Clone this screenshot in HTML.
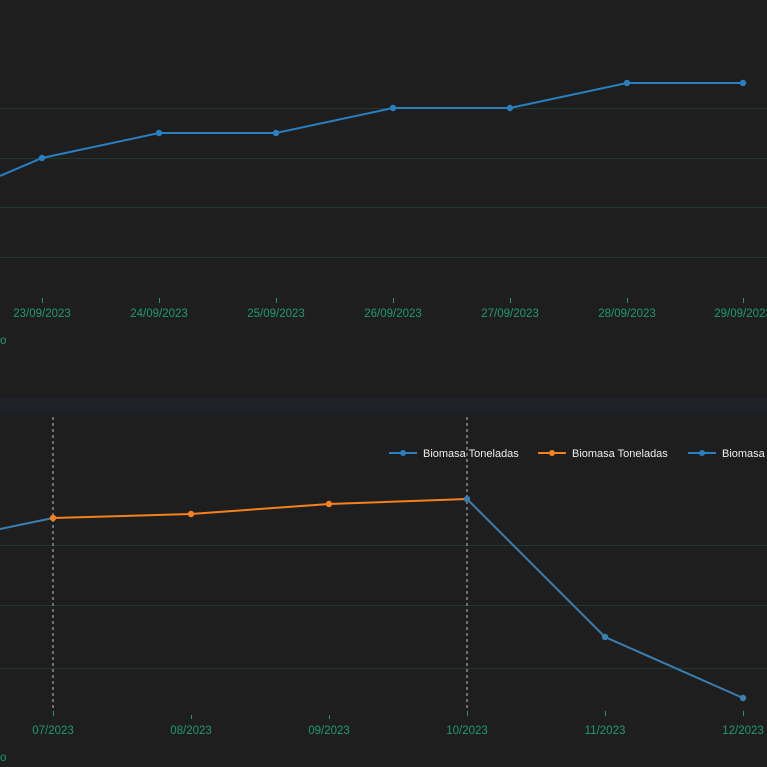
<!DOCTYPE html>
<html><head><style>
html,body{margin:0;padding:0;background:#1e1e1e;}
svg{display:block}
text{font-family:"Liberation Sans",sans-serif;}
</style></head><body>
<svg width="767" height="767" viewBox="0 0 767 767">
<rect width="767" height="767" fill="#1e1e1e"/>
<rect x="0" y="398" width="767" height="15" fill="#20222a"/>
<g stroke="#1f3a2c" stroke-width="1">
<line x1="0" x2="767" y1="108.5" y2="108.5"/>
<line x1="0" x2="767" y1="158.5" y2="158.5"/>
<line x1="0" x2="767" y1="207.5" y2="207.5"/>
<line x1="0" x2="767" y1="257.5" y2="257.5"/>
<line x1="0" x2="767" y1="545.5" y2="545.5"/>
<line x1="0" x2="767" y1="605.5" y2="605.5"/>
<line x1="0" x2="767" y1="668.5" y2="668.5"/>
</g>
<g stroke="#1f9a6e" stroke-width="1">
<line x1="42.5" x2="42.5" y1="298" y2="303"/><line x1="159.5" x2="159.5" y1="298" y2="303"/>
<line x1="276.5" x2="276.5" y1="298" y2="303"/><line x1="393.5" x2="393.5" y1="298" y2="303"/>
<line x1="510.5" x2="510.5" y1="298" y2="303"/><line x1="627.5" x2="627.5" y1="298" y2="303"/>
<line x1="743.5" x2="743.5" y1="298" y2="303"/>
<line x1="53.5" x2="53.5" y1="711" y2="716"/><line x1="191.5" x2="191.5" y1="715" y2="719"/>
<line x1="329.5" x2="329.5" y1="715" y2="719"/><line x1="467.5" x2="467.5" y1="711" y2="716"/>
<line x1="605.5" x2="605.5" y1="711" y2="716"/><line x1="743.5" x2="743.5" y1="711" y2="716"/>
</g>
<g fill="#1f9a6e" font-size="11.5" text-anchor="middle">
<text x="42" y="317">23/09/2023</text><text x="159" y="317">24/09/2023</text>
<text x="276" y="317">25/09/2023</text><text x="393" y="317">26/09/2023</text>
<text x="510" y="317">27/09/2023</text><text x="627" y="317">28/09/2023</text>
<text x="743" y="317">29/09/2023</text>
<text x="53" y="734">07/2023</text><text x="191" y="734">08/2023</text>
<text x="329" y="734">09/2023</text><text x="467" y="734">10/2023</text>
<text x="605" y="734">11/2023</text><text x="743" y="734">12/2023</text>
<text x="0" y="344" text-anchor="start">o</text>
<text x="0" y="761" text-anchor="start">o</text>
</g>
<polyline fill="none" stroke="#2a7fc0" stroke-width="2" points="0,176 42,158 159,133 276,133 393,108 510,108 627,83 743,83"/>
<g fill="#2a7fc0">
<circle cx="42" cy="158" r="3.2"/><circle cx="159" cy="133" r="3.2"/><circle cx="276" cy="133" r="3.2"/>
<circle cx="393" cy="108" r="3.2"/><circle cx="510" cy="108" r="3.2"/><circle cx="627" cy="83" r="3.2"/><circle cx="743" cy="83" r="3.2"/>
</g>
<g stroke="#888" stroke-width="1.5" stroke-dasharray="3,3">
<line x1="53" x2="53" y1="417" y2="710"/><line x1="467" x2="467" y1="417" y2="710"/>
</g>
<polyline fill="none" stroke="#3a7fb0" stroke-width="2" points="0,529 53,518"/>
<polyline fill="none" stroke="#f5801e" stroke-width="2" points="53,518 191,514 329,504 467,499"/>
<polyline fill="none" stroke="#3a7fb0" stroke-width="2" points="467,499 605,637 743,698"/>
<g fill="#f5801e"><circle cx="53" cy="518" r="3.2"/><circle cx="191" cy="514" r="3.2"/><circle cx="329" cy="504" r="3.2"/></g>
<g fill="#3a7fb0"><circle cx="467" cy="499" r="3.2"/><circle cx="605" cy="637" r="3.2"/><circle cx="743" cy="698" r="3.2"/></g>
<g font-size="11" fill="#eee">
<line x1="389" x2="417" y1="453" y2="453" stroke="#2a7fc0" stroke-width="2"/><circle cx="403" cy="453" r="3" fill="#2a7fc0"/>
<text x="423" y="457">Biomasa Toneladas</text>
<line x1="538" x2="566" y1="453" y2="453" stroke="#f5801e" stroke-width="2"/><circle cx="552" cy="453" r="3" fill="#f5801e"/>
<text x="572" y="457">Biomasa Toneladas</text>
<line x1="688" x2="716" y1="453" y2="453" stroke="#2a7fc0" stroke-width="2"/><circle cx="702" cy="453" r="3" fill="#2a7fc0"/>
<text x="722" y="457">Biomasa Toneladas</text>
</g>
</svg>
</body></html>
